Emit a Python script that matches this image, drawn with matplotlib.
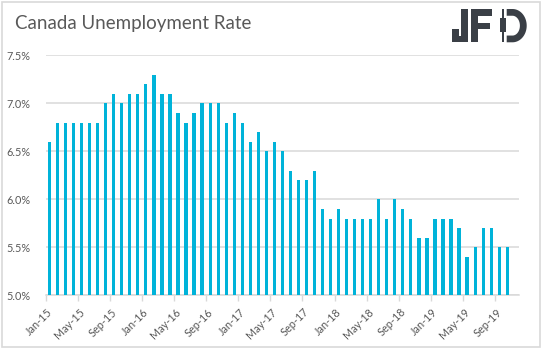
import matplotlib
matplotlib.use("Agg")
import numpy as np
from matplotlib import pyplot as plt
from matplotlib.patches import Rectangle, Polygon
from matplotlib.transforms import ScaledTranslation

# monthly unemployment rate, Jan-15 .. Oct-19 (%)
rates = [6.6, 6.8, 6.8, 6.8, 6.8, 6.8, 6.8, 7.0, 7.1, 7.0, 7.1, 7.1,
         7.2, 7.3, 7.1, 7.1, 6.9, 6.8, 6.9, 7.0, 7.0, 7.0, 6.8, 6.9,
         6.8, 6.6, 6.7, 6.5, 6.6, 6.5, 6.3, 6.2, 6.2, 6.3, 5.9, 5.8,
         5.9, 5.8, 5.8, 5.8, 5.8, 6.0, 5.8, 6.0, 5.9, 5.8, 5.6, 5.6,
         5.8, 5.8, 5.8, 5.7, 5.4, 5.5, 5.7, 5.7, 5.5, 5.5]
n_slots = 59  # axis keeps one empty slot for Nov-19
tick_labels = ['Jan-15', 'May-15', 'Sep-15', 'Jan-16', 'May-16', 'Sep-16',
               'Jan-17', 'May-17', 'Sep-17', 'Jan-18', 'May-18', 'Sep-18',
               'Jan-19', 'May-19', 'Sep-19']
y_ticks = [5.0, 5.5, 6.0, 6.5, 7.0, 7.5]

W, H = 543, 351
BAR = '#00b3d9'
GRID = '#d9d9d9'
TXT = '#595959'
LOGO = '#3a3f46'
plt.rcParams['font.family'] = ['Lato', 'DejaVu Sans']

fig = plt.figure(figsize=(W / 100, H / 100), dpi=100)


def fx(x):
    return x / W


def fy(y):
    return 1 - y / H


def px_rect(x0, y0, x1, y1, **kw):
    # rectangle given in image pixels (y down)
    fig.patches.append(Rectangle((fx(x0), fy(y1)), fx(x1 - x0), (y1 - y0) / H,
                                 transform=fig.transFigure, **kw))


# outer border
px_rect(2, 2, 540, 347, fill=False, edgecolor=GRID, linewidth=1.2)

ax = fig.add_axes([fx(45.5), fy(295.3), fx(519.3) - fx(45.5), fy(55.3) - fy(295.3)])
x = np.arange(len(rates))
ax.bar(x, np.array(rates) - 5.0, bottom=5.0, width=0.4, color=BAR, zorder=3)
ax.set_xlim(-0.5, n_slots - 0.5)
ax.set_ylim(5.0, 7.5)

ax.set_yticks(y_ticks)
ax.set_yticklabels(['%.1f%%' % v for v in y_ticks])
ax.yaxis.grid(True, color=GRID, linewidth=1.1, zorder=0)
ax.tick_params(axis='y', length=0, pad=11, labelsize=7.8, labelcolor=TXT)

ax.set_xticks(np.arange(0, len(rates), 4))
ax.set_xticklabels(tick_labels, rotation=45, ha='right', va='top', rotation_mode='anchor')
ax.set_xticks(np.arange(-0.5, len(rates), 4), minor=True)
ax.tick_params(axis='x', which='major', length=0, pad=8, labelsize=7.8, labelcolor=TXT)
ax.tick_params(axis='x', which='minor', length=4, width=1, color=GRID)
shift = ScaledTranslation(-3 / 100, 0, fig.dpi_scale_trans)
for lab in ax.get_xticklabels():
    lab.set_transform(lab.get_transform() + shift)

for s in ['top', 'right', 'left']:
    ax.spines[s].set_visible(False)
ax.spines['bottom'].set_color(GRID)
ax.spines['bottom'].set_linewidth(1.1)

fig.text(fx(15), fy(23), 'Canada Unemployment Rate', fontsize=13.5, color=TXT,
         va='center', ha='left')

# JFD logo, drawn from blocks (image pixels)
logo = dict(facecolor=LOGO, edgecolor='none')
# J
px_rect(460.5, 9, 467.5, 42.3, **logo)
px_rect(452, 35.5, 467.5, 42.3, **logo)
px_rect(452, 29, 459, 42.3, **logo)
# F
px_rect(471, 9, 478, 42.3, **logo)
px_rect(471, 9, 491.7, 16, **logo)
px_rect(471, 22.5, 490, 29, **logo)
# candle
px_rect(502.3, 9, 503.7, 42.3, **logo)
px_rect(500.3, 18.3, 505.7, 31.7, **logo)
# D: open on the left
cx, cy = 512.5, 25.65
t = np.linspace(np.pi / 2, -np.pi / 2, 40)
outer = [(cx + 14.2 * np.cos(a), cy - 16.65 * np.sin(a)) for a in t]
inner = [(cx + 7.4 * np.cos(a), cy - 9.9 * np.sin(a)) for a in t[::-1]]
pts = [(506.7, 9.0)] + outer + [(506.7, 42.3), (506.7, 35.55)] + inner + [(506.7, 15.75)]
fig.patches.append(Polygon([(fx(a), fy(b)) for a, b in pts], closed=True,
                           transform=fig.transFigure, **logo))

fig.savefig('out.png', dpi=100)
